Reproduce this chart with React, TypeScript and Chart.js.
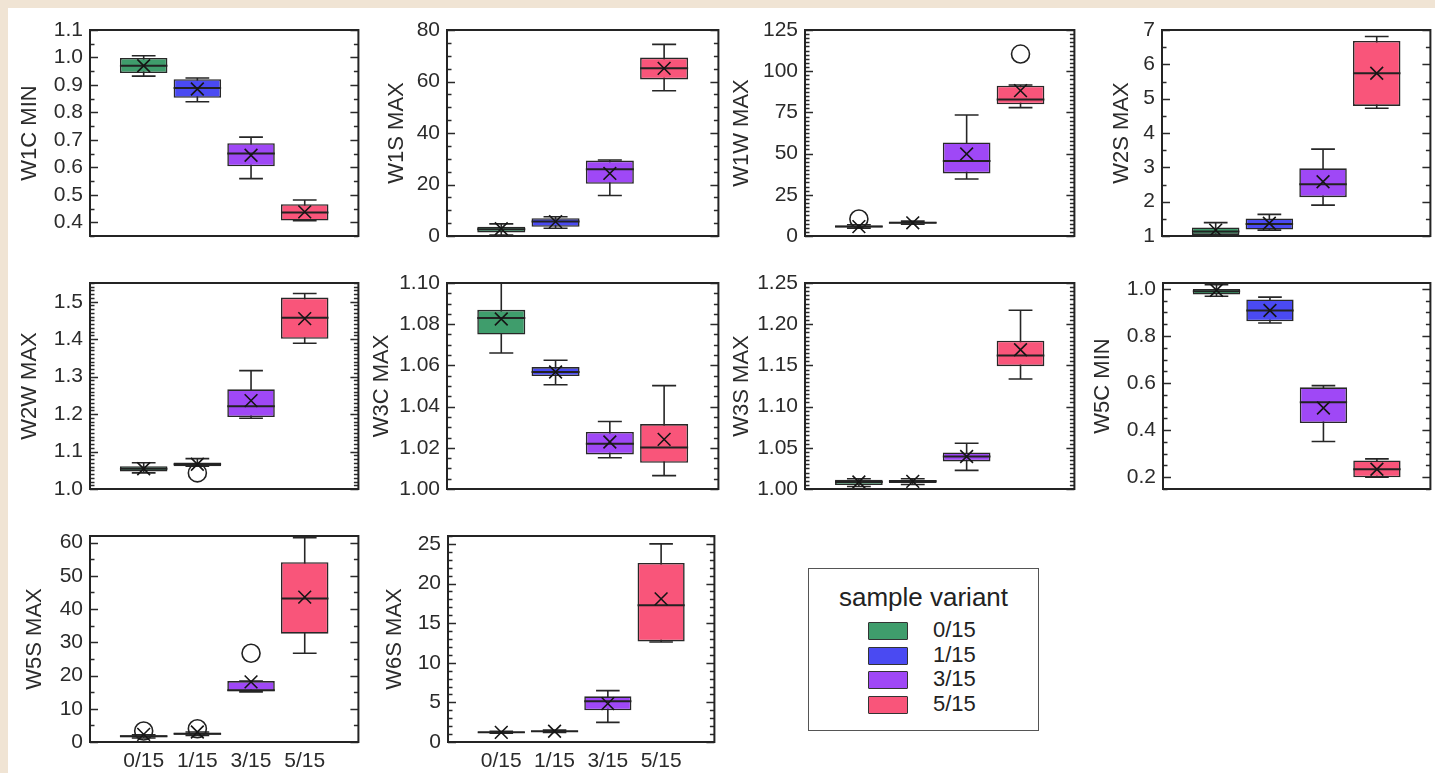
import React, { useEffect, useRef } from 'react';
import { Chart, registerables } from 'chart.js';

Chart.register(...registerables);

// ---------- data ----------
const categories = ['0/15', '1/15', '3/15', '5/15'];
const variantColors = ['#3f9d6c', '#4a4af2', '#9f48f6', '#f9557a'];
const legendTitle = 'sample variant';

// each box: [whiskerLow, q1, median, q3, whiskerHigh, mean]
const w1cMinBoxes = [
  [0.932, 0.943, 0.970, 0.998, 1.006, 0.970],
  [0.839, 0.853, 0.889, 0.921, 0.925, 0.885],
  [0.559, 0.604, 0.650, 0.688, 0.710, 0.644],
  [0.406, 0.406, 0.436, 0.466, 0.481, 0.438],
];
const w1sMaxBoxes = [
  [0.4, 1.4, 2.6, 3.6, 4.7, 2.8],
  [3.0, 3.6, 5.6, 6.9, 7.5, 5.6],
  [15.7, 20.3, 25.9, 29.3, 29.5, 24.3],
  [56.4, 60.8, 65.1, 69.3, 74.4, 65.1],
];
const w1wMaxBoxes = [
  [4.8, 5.2, 5.8, 6.4, 6.8, 5.7],
  [7.2, 7.6, 8.1, 8.6, 9.0, 8.0],
  [34.6, 38.0, 45.5, 56.8, 73.4, 49.8],
  [77.9, 79.9, 82.9, 91.2, 91.6, 88.2],
];
const w2sMaxBoxes = [
  [1.0, 1.03, 1.13, 1.25, 1.39, 1.17],
  [1.17, 1.19, 1.35, 1.51, 1.63, 1.37],
  [1.90, 2.13, 2.51, 2.97, 3.53, 2.58],
  [4.72, 4.79, 5.74, 6.68, 6.81, 5.74],
];
const w2wMaxBoxes = [
  [1.043, 1.047, 1.054, 1.061, 1.070, 1.054],
  [1.061, 1.061, 1.066, 1.071, 1.081, 1.066],
  [1.189, 1.192, 1.221, 1.266, 1.316, 1.236],
  [1.389, 1.401, 1.457, 1.511, 1.522, 1.455],
];
const w3cMaxBoxes = [
  [1.066, 1.075, 1.083, 1.087, 1.100, 1.0825],
  [1.0506, 1.0548, 1.0568, 1.0592, 1.0625, 1.0568],
  [1.0152, 1.0168, 1.022, 1.0277, 1.0328, 1.0228],
  [1.0065, 1.0127, 1.0201, 1.0315, 1.0502, 1.0241],
];
const w3sMaxBoxes = [
  [1.003, 1.0048, 1.0085, 1.0113, 1.0125, 1.0085],
  [1.0055, 1.0073, 1.0093, 1.0108, 1.0125, 1.0093],
  [1.0226, 1.0335, 1.0395, 1.0444, 1.0556, 1.0395],
  [1.1335, 1.149, 1.162, 1.180, 1.217, 1.169],
];
const w5cMinBoxes = [
  [0.969, 0.976, 0.990, 1.000, 1.018, 0.994],
  [0.855, 0.862, 0.908, 0.955, 0.965, 0.908],
  [0.352, 0.430, 0.518, 0.582, 0.589, 0.494],
  [0.200, 0.200, 0.234, 0.271, 0.278, 0.234],
];
const w5sMaxBoxes = [
  [1.2, 1.4, 1.7, 2.0, 2.2, 2.3],
  [2.0, 2.2, 2.5, 2.8, 3.0, 3.0],
  [15.1, 15.3, 15.6, 18.35, 18.35, 18.1],
  [26.7, 32.6, 43.2, 54.1, 61.5, 43.6],
];
const w6sMaxBoxes = [
  [1.1, 1.15, 1.22, 1.3, 1.35, 1.22],
  [1.2, 1.25, 1.35, 1.42, 1.5, 1.35],
  [2.48, 4.0, 5.13, 5.77, 6.48, 4.84],
  [12.63, 12.7, 17.26, 22.6, 25.0, 18.06],
];

// outliers per category (null = none)
const noOutliers = [null, null, null, null];
const w1wMaxOutliers = [10.3, null, null, 110.4];
const w2wMaxOutliers = [null, 1.043, null, null];
const w5sMaxOutliers = [3.3, 4.0, 26.7, null];

// y tick labels
const w1cMinTicks = [0.4, 0.5, 0.6, 0.7, 0.8, 0.9, 1.0, 1.1];
const w1sMaxTicks = [0, 20, 40, 60, 80];
const w1wMaxTicks = [0, 25, 50, 75, 100, 125];
const w2sMaxTicks = [1, 2, 3, 4, 5, 6, 7];
const w2wMaxTicks = [1.0, 1.1, 1.2, 1.3, 1.4, 1.5];
const w3cMaxTicks = [1.0, 1.02, 1.04, 1.06, 1.08, 1.1];
const w3sMaxTicks = [1.0, 1.05, 1.1, 1.15, 1.2, 1.25];
const w5cMinTicks = [0.2, 0.4, 0.6, 0.8, 1.0];
const w5sMaxTicks = [0, 10, 20, 30, 40, 50, 60];
const w6sMaxTicks = [0, 5, 10, 15, 20, 25];

// ---------- panel definitions (data refs + layout) ----------
type PanelCfg = {
  title: string;
  boxes: number[][];
  outliers: (number | null)[];
  ticks: number[];
  decimals: number;
  min: number;
  max: number;
  minor: number;
  left: number;
  top: number;
  w: number;
  gap: number;
  showX: boolean;
};

const PLOT_H = 206;
const FONT = "'Liberation Sans', Arial, Helvetica, sans-serif";
const TEXT = '#2b2b2b';

const panels: PanelCfg[] = [
  { title: 'W1C MIN', boxes: w1cMinBoxes, outliers: noOutliers, ticks: w1cMinTicks, decimals: 1, min: 0.35, max: 1.1, minor: 1, left: 90, top: 30, w: 271, gap: 60, showX: false },
  { title: 'W1S MAX', boxes: w1sMaxBoxes, outliers: noOutliers, ticks: w1sMaxTicks, decimals: 0, min: 0, max: 80, minor: 3, left: 447, top: 30, w: 274, gap: 50, showX: false },
  { title: 'W1W MAX', boxes: w1wMaxBoxes, outliers: w1wMaxOutliers, ticks: w1wMaxTicks, decimals: 0, min: 0, max: 125, minor: 9, left: 805, top: 30, w: 272, gap: 63, showX: false },
  { title: 'W2S MAX', boxes: w2sMaxBoxes, outliers: noOutliers, ticks: w2sMaxTicks, decimals: 0, min: 1, max: 7, minor: 1, left: 1162, top: 30, w: 271, gap: 40, showX: false },
  { title: 'W2W MAX', boxes: w2wMaxBoxes, outliers: w2wMaxOutliers, ticks: w2wMaxTicks, decimals: 1, min: 1.0, max: 1.55, minor: 9, left: 90, top: 283, w: 271, gap: 60, showX: false },
  { title: 'W3C MAX', boxes: w3cMaxBoxes, outliers: noOutliers, ticks: w3cMaxTicks, decimals: 2, min: 1.0, max: 1.1, minor: 3, left: 447, top: 283, w: 274, gap: 65, showX: false },
  { title: 'W3S MAX', boxes: w3sMaxBoxes, outliers: noOutliers, ticks: w3sMaxTicks, decimals: 2, min: 1.0, max: 1.25, minor: 9, left: 805, top: 283, w: 272, gap: 63, showX: false },
  { title: 'W5C MIN', boxes: w5cMinBoxes, outliers: noOutliers, ticks: w5cMinTicks, decimals: 1, min: 0.15, max: 1.025, minor: 3, left: 1163, top: 283, w: 270, gap: 60, showX: false },
  { title: 'W5S MAX', boxes: w5sMaxBoxes, outliers: w5sMaxOutliers, ticks: w5sMaxTicks, decimals: 0, min: 0, max: 62, minor: 1, left: 90, top: 536, w: 271, gap: 55, showX: true },
  { title: 'W6S MAX', boxes: w6sMaxBoxes, outliers: noOutliers, ticks: w6sMaxTicks, decimals: 0, min: 0, max: 26, minor: 4, left: 448, top: 536, w: 269, gap: 53, showX: true },
];

// ---------- box-plot plugin: whiskers, medians, frame & inner ticks ----------
const boxPlotPlugin = {
  id: 'boxPlotExtras',
  beforeDatasetsDraw(chart: any) {
    const cfg: PanelCfg = chart.options.plugins.boxPlotExtras.cfg;
    const meta = chart.getDatasetMeta(0);
    const y = chart.scales.y;
    const ctx = chart.ctx;
    ctx.save();
    ctx.beginPath();
    ctx.rect(chart.chartArea.left, chart.chartArea.top - 1, chart.chartArea.right - chart.chartArea.left, chart.chartArea.bottom - chart.chartArea.top + 2);
    ctx.clip();
    ctx.strokeStyle = '#262626';
    ctx.lineWidth = 1.6;
    cfg.boxes.forEach((b, i) => {
      const el = meta.data[i + 1];
      if (!el) return;
      const cx = el.x;
      const capHalf = el.width * 0.25;
      const yLo = y.getPixelForValue(b[0]);
      const yHi = y.getPixelForValue(b[4]);
      ctx.beginPath();
      ctx.moveTo(cx, yLo);
      ctx.lineTo(cx, yHi);
      ctx.moveTo(cx - capHalf, yLo);
      ctx.lineTo(cx + capHalf, yLo);
      ctx.moveTo(cx - capHalf, yHi);
      ctx.lineTo(cx + capHalf, yHi);
      ctx.stroke();
    });
    ctx.restore();
  },
  afterDatasetDraw(chart: any, args: any) {
    if (args.index !== 0) return;
    const cfg: PanelCfg = chart.options.plugins.boxPlotExtras.cfg;
    const meta = chart.getDatasetMeta(0);
    const y = chart.scales.y;
    const ctx = chart.ctx;
    ctx.save();
    ctx.strokeStyle = '#222';
    ctx.lineWidth = 2;
    cfg.boxes.forEach((b, i) => {
      const el = meta.data[i + 1];
      if (!el) return;
      const ym = y.getPixelForValue(b[2]);
      ctx.beginPath();
      ctx.moveTo(el.x - el.width / 2, ym);
      ctx.lineTo(el.x + el.width / 2, ym);
      ctx.stroke();
    });
    ctx.restore();
  },
  afterDraw(chart: any) {
    const cfg: PanelCfg = chart.options.plugins.boxPlotExtras.cfg;
    const { left, right, top, bottom } = chart.chartArea;
    const y = chart.scales.y;
    const ctx = chart.ctx;
    ctx.save();
    ctx.strokeStyle = '#2a2a2a';
    ctx.lineWidth = 1.4;
    const ticks = y.ticks;
    const majorLen = 8;
    const minorLen = 4.5;
    ctx.beginPath();
    ticks.forEach((t: any) => {
      const py = Math.round(y.getPixelForValue(t.value)) + 0.5;
      ctx.moveTo(left, py);
      ctx.lineTo(left + majorLen, py);
      ctx.moveTo(right, py);
      ctx.lineTo(right - majorLen, py);
    });
    if (ticks.length > 1 && cfg.minor > 0) {
      const m = cfg.minor + 1;
      const t0 = ticks[0].value;
      const step = (ticks[1].value - t0) / m;
      const kMin = Math.ceil((y.min - t0) / step - 1e-6);
      const kMax = Math.floor((y.max - t0) / step + 1e-6);
      for (let k = kMin; k <= kMax; k++) {
        if (((k % m) + m) % m === 0) continue;
        const py = Math.round(y.getPixelForValue(t0 + k * step)) + 0.5;
        ctx.moveTo(left, py);
        ctx.lineTo(left + minorLen, py);
        ctx.moveTo(right, py);
        ctx.lineTo(right - minorLen, py);
      }
    }
    ctx.stroke();
    ctx.lineWidth = 2;
    ctx.strokeStyle = '#242424';
    ctx.strokeRect(left, top, right - left, bottom - top);
    ctx.restore();
  },
};

const PAD_TOP = 14;
const PAD_RIGHT = 8;
const TITLE_FONT_SIZE = 22;
const TITLE_HALF = (TITLE_FONT_SIZE * 1.2) / 2;

function Panel({ cfg }: { cfg: PanelCfg }) {
  const ref = useRef<HTMLCanvasElement>(null);
  const axisW = Math.round(cfg.gap + TITLE_HALF);
  const bottomH = cfg.showX ? 34 : 14;
  const cw = axisW + cfg.w + PAD_RIGHT;
  const ch = PAD_TOP + PLOT_H + bottomH;

  useEffect(() => {
    if (!ref.current) return;
    const labels = ['', ...categories, ''];
    const chart = new Chart(ref.current, {
      type: 'bar',
      data: {
        labels,
        datasets: [
          {
            type: 'bar',
            data: [null, ...cfg.boxes.map((b) => [b[1], b[3]]), null] as any,
            backgroundColor: ['rgba(0,0,0,0)', ...variantColors, 'rgba(0,0,0,0)'],
            borderColor: '#282828',
            borderWidth: 1.6,
            borderSkipped: false,
            barPercentage: 0.885,
            categoryPercentage: 1,
            order: 3,
          } as any,
          {
            type: 'line',
            data: [null, ...cfg.outliers, null] as any,
            showLine: false,
            pointStyle: 'circle',
            pointRadius: 9,
            pointBorderWidth: 1.6,
            pointBorderColor: '#222',
            pointBackgroundColor: 'rgba(0,0,0,0)',
            order: 2,
          } as any,
          {
            type: 'line',
            data: [null, ...cfg.boxes.map((b) => b[5]), null] as any,
            showLine: false,
            pointStyle: 'crossRot',
            pointRadius: 9,
            pointBorderWidth: 1.6,
            pointBorderColor: '#151515',
            order: 1,
          } as any,
        ],
      },
      options: {
        responsive: false,
        animation: false,
        events: [],
        layout: { padding: { top: PAD_TOP, right: PAD_RIGHT, left: 0, bottom: 0 } },
        plugins: {
          legend: { display: false },
          tooltip: { enabled: false },
          boxPlotExtras: { cfg },
        } as any,
        scales: {
          x: {
            type: 'category',
            offset: false,
            grid: { display: false, drawTicks: false },
            border: { display: false },
            ticks: {
              display: cfg.showX,
              autoSkip: false,
              maxRotation: 0,
              padding: 7,
              color: TEXT,
              font: { family: FONT, size: 21 },
            },
            afterFit: (s: any) => {
              s.height = bottomH;
              s.paddingLeft = 0;
              s.paddingRight = 0;
            },
          },
          y: {
            type: 'linear',
            min: cfg.min,
            max: cfg.max,
            grid: { display: false, drawTicks: false },
            border: { display: false },
            ticks: {
              autoSkip: false,
              padding: 7,
              color: TEXT,
              font: { family: FONT, size: 21 },
              callback: (v: any) => Number(v).toFixed(cfg.decimals),
            },
            afterBuildTicks: (s: any) => {
              s.ticks = cfg.ticks.map((v) => ({ value: v }));
            },
            afterFit: (s: any) => {
              s.width = axisW;
              s.paddingTop = 0;
              s.paddingBottom = 0;
            },
            title: {
              display: true,
              text: cfg.title,
              color: TEXT,
              padding: 0,
              font: { family: FONT, size: TITLE_FONT_SIZE },
            },
          },
        } as any,
      },
      plugins: [boxPlotPlugin as any],
    });
    return () => chart.destroy();
  }, []);

  return (
    <canvas
      ref={ref}
      width={cw}
      height={ch}
      style={{ position: 'absolute', left: cfg.left - axisW, top: cfg.top - PAD_TOP, width: cw, height: ch }}
    />
  );
}

function Legend() {
  const rowCenters = [62, 87, 111, 136];
  return (
    <div
      style={{
        position: 'absolute',
        left: 808,
        top: 568,
        width: 231,
        height: 163,
        border: '1.5px solid #555',
        boxSizing: 'border-box',
        background: '#fff',
        fontFamily: FONT,
        color: '#222',
      }}
    >
      <div
        style={{
          position: 'absolute',
          left: 0,
          width: '100%',
          top: 13,
          textAlign: 'center',
          fontSize: 26,
          lineHeight: '30px',
          whiteSpace: 'nowrap',
        }}
      >
        {legendTitle}
      </div>
      {categories.map((c, i) => (
        <React.Fragment key={c}>
          <div
            style={{
              position: 'absolute',
              left: 59,
              top: rowCenters[i] - 9,
              width: 40,
              height: 18,
              background: variantColors[i],
              border: '1.8px solid #333',
              boxSizing: 'border-box',
              borderRadius: 1,
            }}
          />
          <div
            style={{
              position: 'absolute',
              left: 124,
              top: rowCenters[i] - 13,
              fontSize: 22,
              lineHeight: '24px',
              whiteSpace: 'nowrap',
            }}
          >
            {c}
          </div>
        </React.Fragment>
      ))}
    </div>
  );
}

export default function App() {
  return (
    <div style={{ position: 'absolute', left: 0, top: 0, width: 1435, height: 773, background: '#f0e4d4', overflow: 'hidden' }}>
      <div style={{ position: 'absolute', left: 8, top: 8, width: 1427, height: 765, background: '#ffffff' }} />
      {panels.map((p) => (
        <Panel key={p.title} cfg={p} />
      ))}
      <Legend />
    </div>
  );
}
